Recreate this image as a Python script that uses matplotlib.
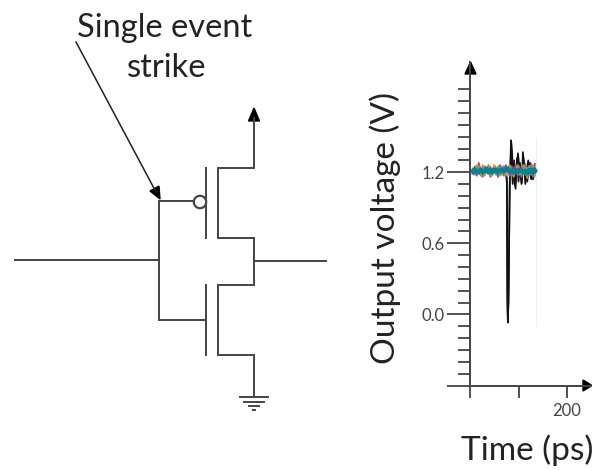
import matplotlib
matplotlib.use("Agg")
import matplotlib.pyplot as plt
from matplotlib.patches import Circle, Polygon
from matplotlib.ticker import FixedLocator, NullFormatter

W, H = 592, 470
dark = '#444444'

# transient traces, time in ps and output voltage in V
t_flat = [6, 10, 14, 18, 22, 26, 30, 34, 38, 42, 46, 50, 54, 58, 62, 66, 70, 74, 78, 82,
          86, 90, 94, 98, 102, 106, 110, 114, 118, 122, 126, 130, 134]
v_teal = [1.21, 1.22, 1.20, 1.21, 1.22, 1.20, 1.21, 1.23, 1.20, 1.21, 1.20, 1.22, 1.21, 1.20, 1.22, 1.21, 1.22,
          1.23, 1.22, 1.21, 1.20, 1.22, 1.21, 1.20, 1.22, 1.21, 1.20, 1.21, 1.19, 1.22, 1.20, 1.22, 1.21]
v_blue = [1.19, 1.23, 1.21, 1.19, 1.23, 1.21, 1.20, 1.22, 1.19, 1.23, 1.21, 1.20, 1.23, 1.19, 1.21, 1.23, 1.20,
          1.22, 1.24, 1.20, 1.22, 1.19, 1.23, 1.21, 1.20, 1.23, 1.19, 1.22, 1.21, 1.20, 1.23, 1.19, 1.23]
v_green = [1.23, 1.18, 1.22, 1.25, 1.18, 1.23, 1.22, 1.20, 1.25, 1.18, 1.23, 1.21, 1.18, 1.25, 1.20, 1.18, 1.25,
           1.20, 1.21, 1.25, 1.18, 1.23, 1.20, 1.23, 1.18, 1.22, 1.25, 1.18, 1.23, 1.25, 1.18, 1.25, 1.20]
v_magenta = [1.20, 1.25, 1.17, 1.28, 1.21, 1.16, 1.25, 1.20, 1.26, 1.16, 1.22, 1.25, 1.20, 1.16, 1.26, 1.22, 1.17,
             1.26, 1.20, 1.17, 1.25, 1.21, 1.26, 1.17, 1.25, 1.16, 1.22, 1.27, 1.16, 1.21, 1.27, 1.16, 1.27]
v_orange = [1.22, 1.18, 1.26, 1.21, 1.17, 1.26, 1.17, 1.21, 1.23, 1.25, 1.17, 1.26, 1.23, 1.21, 1.17, 1.25, 1.21,
            1.17, 1.23, 1.26, 1.21, 1.16, 1.22, 1.26, 1.21, 1.18, 1.26, 1.23, 1.15, 1.25, 1.22, 1.26, 1.17]
trace_colors = ['#c03fb0', '#b99a2f', '#3fbf60', '#3f48cc', '#0f8090']
trace_values = [v_magenta, v_orange, v_green, v_blue, v_teal]
trace_widths = [1.3, 1.3, 1.5, 1.8, 3.2]

t_black = [6, 40, 74, 76, 77, 78, 79.5, 82, 84.5, 86, 89, 93, 96, 99, 103, 107, 109, 113, 118, 124, 130, 134]
v_black = [1.21, 1.21, 1.21, 1.15, 0.20, -0.07, 0.20, 1.10, 1.47, 1.42, 1.20, 1.08, 1.25, 1.36, 1.18, 1.11, 1.37, 1.22, 1.12, 1.28, 1.14, 1.22]
t_black2 = [6, 40, 74, 76, 77, 78, 79.5, 82, 85, 88, 91, 94, 97, 100, 103, 106, 110, 114, 120, 126, 132]
v_black2 = [1.21, 1.21, 1.21, 1.10, 0.10, -0.05, 0.10, 1.15, 1.40, 1.10, 1.30, 1.06, 1.32, 1.12, 1.28, 1.10, 1.32, 1.10, 1.30, 1.14, 1.24]

t_edge = [136, 136]
v_edge = [-0.1, 1.49]

y_major = [-0.6, 0.0, 0.6, 1.2]
y_minor = [-0.5, -0.4, -0.3, -0.2, -0.1, 0.1, 0.2, 0.3, 0.4, 0.5, 0.7, 0.8, 0.9, 1.0, 1.1,
           1.3, 1.4, 1.5, 1.6, 1.7, 1.8, 1.9]
y_labels = ['', '0.0', '0.6', '1.2']
x_major = [0, 100, 200]
x_labels = ['', '', '200']

# inverter schematic in image pixels
wires = [
    ([254, 254, 218, 218, 254, 254, 218, 218, 254, 254], [118, 168, 168, 238, 238, 285, 285, 355, 355, 397]),
    ([206, 206], [168, 238]),
    ([206, 206], [285, 355]),
    ([194, 159, 159, 206], [201, 201, 320, 320]),
    ([15, 159], [260, 260]),
    ([254, 326], [261, 261]),
    ([240, 268], [397, 397]),
    ([244, 264], [401.5, 401.5]),
    ([249, 259], [406, 406]),
    ([253, 255], [410, 410]),
]

plt.rcParams['font.family'] = ['Lato', 'DejaVu Sans']

fig = plt.figure(figsize=(W / 100, H / 100), dpi=100)

# overlay in pixel coordinates for the schematic and axis arrows
over = fig.add_axes([0, 0, 1, 1])
over.set_xlim(0, W)
over.set_ylim(H, 0)
over.axis('off')

for xs, ys in wires:
    over.plot(xs, ys, color=dark, lw=1.4, solid_joinstyle='miter')
over.add_patch(Circle((200, 202), 6.2, fc='white', ec=dark, lw=1.6, zorder=3))
over.add_patch(Polygon([[254, 108], [248.5, 121], [259.5, 121]], color='black'))
over.add_patch(Polygon([[470.5, 62], [465, 74], [476, 74]], color='black'))
over.add_patch(Polygon([[592, 385.5], [583, 380], [583, 391]], color='black'))
over.plot([76, 156], [42, 192], color='#222222', lw=1.1)
over.add_patch(Polygon([[160, 199], [150, 191], [159, 186]], color='black'))

over.text(165, 28, 'Single event', fontsize=23.5, ha='center', va='center', color='#222222')
over.text(167, 68, 'strike', fontsize=23.5, ha='center', va='center', color='#222222')

# voltage plot
ax = fig.add_axes([470 / W, (H - 385.5) / H, 122 / W, 323.5 / H])
ax.patch.set_alpha(0)
ax.set_xlim(0, 251.5)
ax.set_ylim(-0.6, 2.13)

ax.plot(t_edge, v_edge, color='#efefef', lw=0.7)
ax.plot(t_black, v_black, color='#111111', lw=1.2)
ax.plot(t_black2, v_black2, color='#111111', lw=1.2)
for vals, col, lw in zip(trace_values, trace_colors, trace_widths):
    ax.plot(t_flat, vals, color=col, lw=lw)

for s in ['top', 'right']:
    ax.spines[s].set_visible(False)
for s in ['left', 'bottom']:
    ax.spines[s].set_color(dark)
    ax.spines[s].set_linewidth(1.4)

ax.yaxis.set_major_locator(FixedLocator(y_major))
ax.yaxis.set_minor_locator(FixedLocator(y_minor))
ax.set_yticklabels(y_labels)
ax.yaxis.set_minor_formatter(NullFormatter())
ax.set_xticks(x_major)
ax.set_xticklabels(x_labels)
ax.tick_params(axis='y', which='major', length=16.5, width=1.3, color=dark, labelsize=12, labelcolor='#444444', pad=2)
ax.tick_params(axis='y', which='minor', length=8.6, width=1.3, color=dark)
ax.tick_params(axis='x', which='major', length=8.6, width=1.3, color=dark, labelsize=12, labelcolor='#444444', pad=4)

over.text(385, 228, 'Output voltage (V)', fontsize=24, rotation=90, ha='center', va='center', color='#222222')
over.text(527, 450, 'Time (ps)', fontsize=24, ha='center', va='center', color='#222222')

fig.savefig('out.png', dpi=100)
